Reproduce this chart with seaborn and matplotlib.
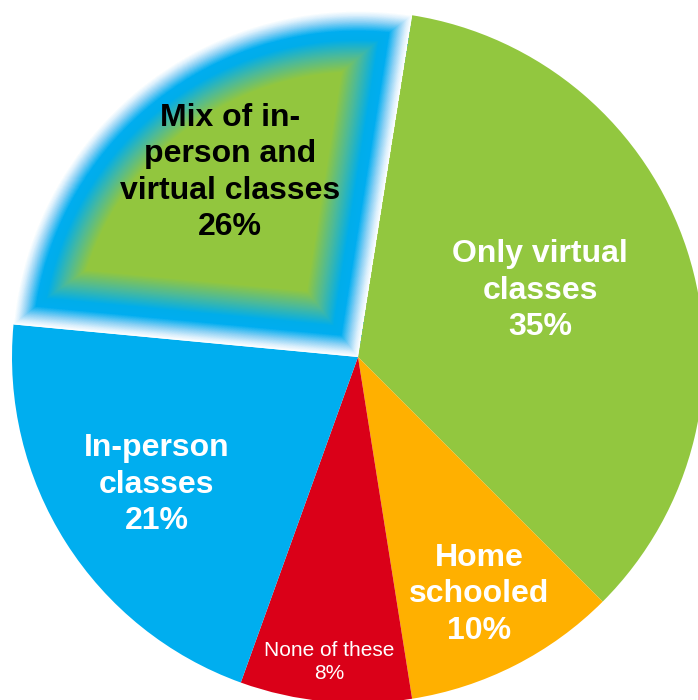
import numpy as np
import pandas as pd
import seaborn as sns
import matplotlib
matplotlib.use("Agg")
import matplotlib.pyplot as plt
from matplotlib.colors import LinearSegmentedColormap

# Survey shares by schooling mode (clockwise from the top)
categories = ["Only virtual\nclasses", "Home\nschooled", "None of these",
              "In-person\nclasses", "Mix of in-\nperson and\nvirtual classes"]
shares = [35, 10, 8, 21, 26]

df = pd.DataFrame({"category": categories, "share": shares})

slice_colors = ["#92C73F", "#FFB000", "#DA0018", "#00AEEF", "#92C73F"]
text_colors = ["white", "white", "white", "white", "black"]
text_sizes = [23, 23, 15, 23, 23]
text_weights = ["bold", "bold", "normal", "bold", "bold"]
# radial fraction and angular nudge (degrees) for each label
label_frac = [0.56, 0.77, 0.885, 0.69, 0.65]
label_nudge = [2, 0, 0, 0, -3]

sns.set_theme(style="white")
plt.rcParams["font.family"] = ["Liberation Sans", "DejaVu Sans"]

W, H = 698, 700
fig = plt.figure(figsize=(W / 100, H / 100), dpi=100)
ax = fig.add_axes([0, 0, 1, 1])

cx, cy, R = 358, 343, 346
wedges, _ = ax.pie(df["share"], colors=slice_colors, startangle=81,
                   counterclock=False, radius=R, center=(cx, cy),
                   wedgeprops=dict(linewidth=0))
ax.set_xlim(0, W)
ax.set_ylim(0, H)
ax.set_aspect("auto")
ax.axis("off")

# Glowing fill for the mixed-mode slice: colour by distance to the slice edge
mix = wedges[-1]
t1, t2 = mix.theta1, mix.theta2
span = t2 - t1
xs = np.arange(W) + 0.5
ys = np.arange(H) + 0.5
X, Y = np.meshgrid(xs, ys)
dx, dy = X - cx, Y - cy
r = np.hypot(dx, dy)
phi = np.degrees(np.arctan2(dy, dx))
rel = np.mod(phi - t1, 360)
rel_r = np.radians(rel)
rem_r = np.radians(span - rel)
d1 = np.where(rel < 90, r * np.sin(rel_r), r)
d2 = np.where(span - rel < 90, r * np.sin(rem_r), r)
d = np.minimum(np.minimum(d1, d2), R - r)
glow = LinearSegmentedColormap.from_list("glow", [
    (0.00, (1.0, 1.0, 1.0)),
    (0.06, (0.86, 0.94, 0.99)),
    (0.15, (0.55, 0.82, 0.96)),
    (0.28, (0.0, 0.68, 0.94)),
    (0.40, (0.0, 0.68, 0.92)),
    (0.62, (0.30, 0.73, 0.60)),
    (0.85, (0.573, 0.78, 0.247)),
    (1.00, (0.573, 0.78, 0.247)),
])
rgb = glow(np.clip(d / 72.0, 0, 1))
img = ax.imshow(rgb, extent=(0, W, 0, H), origin="lower",
                interpolation="bilinear", zorder=2)
img.set_clip_path(mix)
mix.set_facecolor("none")

for w, cat, val, col, fs, fw, fr, nd in zip(wedges, categories, shares,
                                            text_colors, text_sizes,
                                            text_weights, label_frac,
                                            label_nudge):
    mid = np.radians((w.theta1 + w.theta2) / 2 + nd)
    x = cx + fr * R * np.cos(mid)
    y = cy + fr * R * np.sin(mid)
    ax.text(x, y, f"{cat}\n{val}%", ha="center", va="center", color=col,
            fontsize=fs, fontweight=fw, linespacing=1.28, zorder=3)

fig.savefig("out.png", dpi=100)
